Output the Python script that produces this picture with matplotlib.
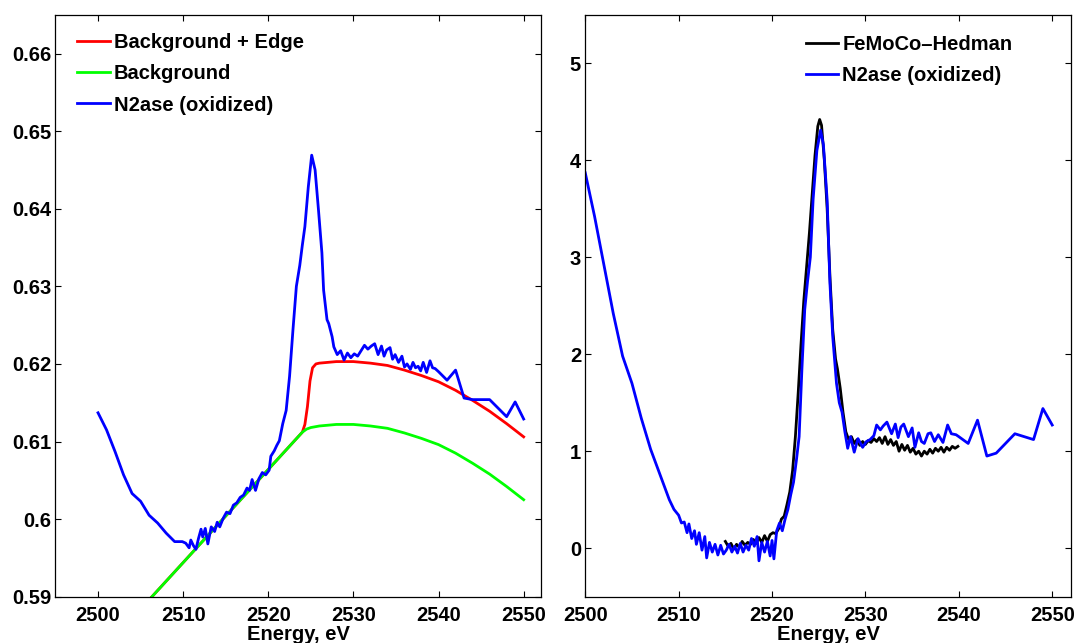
import matplotlib
matplotlib.use("Agg")
import matplotlib.pyplot as plt
from matplotlib.ticker import FormatStrFormatter

# N2ase (oxidized), raw absorbance
e_raw = [2500, 2501, 2502, 2503, 2504, 2505, 2506, 2507, 2508, 2509, 2509.9,
         2510.3, 2510.7, 2510.9, 2511.2, 2511.5, 2511.8, 2512.1, 2512.3, 2512.6, 2512.9,
         2513.3, 2513.7, 2514.0, 2514.3, 2514.7, 2515.1, 2515.5, 2515.9, 2516.3, 2516.7,
         2517.1, 2517.5, 2517.8, 2518.1, 2518.5, 2518.9, 2519.3, 2519.7, 2520.1, 2520.3,
         2520.7, 2521.0, 2521.3, 2521.7, 2522.1, 2522.5, 2522.9, 2523.3, 2523.7, 2524.0,
         2524.3, 2524.7, 2525.1, 2525.5, 2525.9, 2526.3, 2526.5, 2526.9, 2527.1, 2527.5,
         2527.7, 2528.1, 2528.5, 2528.9, 2529.3, 2529.7, 2530.1, 2530.5, 2530.9, 2531.3,
         2531.7, 2532.1, 2532.5, 2532.9, 2533.3, 2533.6, 2533.9, 2534.3, 2534.6, 2534.9,
         2535.3, 2535.7, 2536.0, 2536.3, 2536.7, 2537.0, 2537.3, 2537.6, 2537.9, 2538.2,
         2538.6, 2539.0, 2539.3, 2539.6, 2540.0, 2541, 2542, 2543, 2544, 2546, 2548,
         2549, 2550]
a_raw = [0.6137, 0.6115, 0.6087, 0.6057, 0.6033, 0.6023, 0.6005, 0.5995, 0.5982, 0.5971, 0.5971,
         0.5969, 0.5963, 0.5973, 0.5966, 0.5961, 0.5975, 0.5987, 0.5977, 0.5988, 0.5968,
         0.5990, 0.5984, 0.5996, 0.5990, 0.6001, 0.6009, 0.6007, 0.6018, 0.6021, 0.6028,
         0.6031, 0.6040, 0.6037, 0.6051, 0.6037, 0.6052, 0.6060, 0.6057, 0.6063, 0.6081,
         0.6088, 0.6095, 0.6101, 0.6123, 0.6140, 0.6184, 0.6244, 0.6300, 0.6327, 0.6353,
         0.6377, 0.6428, 0.6469, 0.6450, 0.6398, 0.6343, 0.6295, 0.6257, 0.6252, 0.6235,
         0.6222, 0.6212, 0.6217, 0.6205, 0.6214, 0.6208, 0.6213, 0.6210, 0.6217, 0.6224,
         0.6219, 0.6223, 0.6226, 0.6212, 0.6223, 0.6210, 0.6218, 0.6221, 0.6206, 0.6212,
         0.6202, 0.6210, 0.6196, 0.6200, 0.6193, 0.6202, 0.6195, 0.6197, 0.6191, 0.6202,
         0.6189, 0.6204, 0.6195, 0.6194, 0.6190, 0.6179, 0.6192, 0.6156, 0.6154, 0.6154, 0.6132,
         0.6151, 0.6129]

# background fit
e_bg = [2504, 2506, 2508, 2510, 2512, 2514, 2516, 2518, 2520, 2522, 2524, 2524.5, 2525,
        2525.5, 2526, 2527, 2528, 2529, 2530, 2531, 2532, 2534, 2536, 2538, 2540, 2542,
        2544, 2546, 2548, 2550]
a_bg = [0.5872, 0.5896, 0.5920, 0.5944, 0.5968, 0.5992, 0.6016, 0.6040, 0.6064, 0.6088,
        0.6112, 0.6116, 0.6118, 0.6119, 0.6120, 0.6121, 0.6122, 0.6122, 0.6122, 0.6121,
        0.6120, 0.6117, 0.6111, 0.6104, 0.6096, 0.6085, 0.6072, 0.6058, 0.6042, 0.6025]

# background + edge step
e_edge = [2504, 2506, 2508, 2510, 2512, 2514, 2516, 2518, 2520, 2522, 2524, 2524.3,
          2524.6, 2524.9, 2525.2, 2525.6, 2526, 2527, 2528, 2529, 2530, 2531, 2532, 2534,
          2536, 2538, 2540, 2542, 2544, 2546, 2548, 2550]
a_edge = [0.5872, 0.5896, 0.5920, 0.5944, 0.5968, 0.5992, 0.6016, 0.6040, 0.6064, 0.6088,
          0.6112, 0.6122, 0.6145, 0.6178, 0.6195, 0.6200, 0.6201, 0.6202, 0.6203, 0.6203,
          0.6203, 0.6202, 0.6201, 0.6198, 0.6192, 0.6185, 0.6177, 0.6166, 0.6153, 0.6139,
          0.6123, 0.6106]

# normalized N2ase (oxidized)
e_norm = [2500, 2501, 2502, 2503, 2504, 2505, 2506, 2507, 2508, 2509, 2509.5, 2510.0,
          2510.3, 2510.6, 2510.9, 2511.1, 2511.4, 2511.7, 2511.9, 2512.2, 2512.5, 2512.8,
          2513.0, 2513.3, 2513.6, 2513.9, 2514.2, 2514.5, 2514.8, 2515.1, 2515.4, 2515.7,
          2516.0, 2516.3, 2516.6, 2516.9, 2517.2, 2517.5, 2517.8, 2518.1, 2518.4, 2518.6,
          2518.9, 2519.2, 2519.5, 2519.8, 2520.0, 2520.2, 2520.5, 2520.8, 2521.1, 2521.4,
          2521.7, 2522.0, 2522.3, 2522.6, 2522.9, 2523.2, 2523.5, 2523.8, 2524.1, 2524.4,
          2524.8, 2525.2, 2525.5, 2525.9, 2526.2, 2526.5, 2526.9, 2527.2, 2527.5, 2527.8,
          2528.1, 2528.4, 2528.8, 2529.2, 2529.7, 2530.1, 2530.5, 2530.9, 2531.2, 2531.6,
          2531.9, 2532.3, 2532.8, 2533.2, 2533.5, 2533.8, 2534.1, 2534.6, 2535.0, 2535.3,
          2535.7, 2536.0, 2536.3, 2536.7, 2537.0, 2537.4, 2537.8, 2538.3, 2538.8, 2539.2,
          2539.7, 2540.0, 2541, 2542, 2543, 2544, 2546, 2548, 2549, 2550]
a_norm = [3.87, 3.42, 2.92, 2.42, 1.98, 1.70, 1.34, 1.02, 0.76, 0.50, 0.40, 0.34,
          0.26, 0.27, 0.16, 0.25, 0.10, 0.18, 0.04, 0.16, -0.02, 0.12,
          -0.10, 0.06, -0.04, 0.04, -0.07, 0.03, -0.06, -0.02, 0.04, -0.04,
          0.02, -0.05, 0.05, -0.04, 0.03, -0.02, 0.10, 0.02, 0.12, -0.13,
          0.06, -0.04, 0.07, -0.08, 0.08, -0.11, 0.18, 0.26, 0.18, 0.30,
          0.40, 0.55, 0.68, 0.90, 1.15, 1.85, 2.46, 2.75, 3.00, 3.60,
          4.10, 4.31, 4.16, 3.59, 2.73, 2.18, 1.70, 1.50, 1.40, 1.20,
          1.03, 1.15, 0.99, 1.13, 1.04, 1.10, 1.12, 1.16, 1.27, 1.22,
          1.26, 1.30, 1.18, 1.28, 1.14, 1.25, 1.28, 1.15, 1.24, 1.04,
          1.19, 1.10, 1.08, 1.18, 1.19, 1.10, 1.17, 1.09, 1.27, 1.18,
          1.17, 1.15, 1.08, 1.32, 0.95, 0.98, 1.18, 1.12, 1.44, 1.27]

# FeMoCo reference (Hedman)
e_hed = [2515.0, 2515.3, 2515.6, 2515.9, 2516.2, 2516.5, 2516.8, 2517.1, 2517.4, 2517.7,
         2518.0, 2518.3, 2518.6, 2518.9, 2519.2, 2519.5, 2519.8, 2520.1, 2520.4, 2520.7,
         2521.0, 2521.3, 2521.6, 2521.9, 2522.2, 2522.5, 2522.8, 2523.1, 2523.4, 2523.7,
         2524.0, 2524.3, 2524.6, 2524.9, 2525.1, 2525.3, 2525.6, 2525.9, 2526.2, 2526.5,
         2526.8, 2527.0, 2527.3, 2527.6, 2527.9, 2528.2, 2528.5, 2528.8, 2529.1, 2529.4,
         2529.7, 2530.0, 2530.3, 2530.6, 2530.9, 2531.2, 2531.5, 2531.8, 2532.1, 2532.4,
         2532.7, 2533.0, 2533.3, 2533.6, 2533.9, 2534.2, 2534.5, 2534.8, 2535.1, 2535.4,
         2535.7, 2536.0, 2536.3, 2536.6, 2536.9, 2537.2, 2537.5, 2537.8, 2538.1, 2538.4,
         2538.7, 2539.0, 2539.3, 2539.6, 2539.9]
a_hed = [0.07, 0.02, 0.05, -0.01, 0.04, 0.01, 0.07, 0.03, 0.06, 0.04,
         0.09, 0.05, 0.11, 0.06, 0.13, 0.07, 0.14, 0.16, 0.15, 0.20,
         0.30, 0.33, 0.45, 0.58, 0.80, 1.15, 1.60, 2.10, 2.55, 2.90,
         3.25, 3.65, 4.05, 4.35, 4.42, 4.36, 4.00, 3.50, 2.80, 2.25,
         1.95, 1.85, 1.65, 1.40, 1.20, 1.12, 1.15, 1.08, 1.12, 1.06,
         1.10, 1.07, 1.11, 1.09, 1.13, 1.10, 1.14, 1.08, 1.15, 1.07,
         1.12, 1.06, 1.10, 1.00, 1.07, 1.01, 1.06, 0.99, 1.03, 0.97,
         1.00, 0.95, 1.00, 0.97, 1.02, 0.98, 1.03, 1.00, 1.04, 0.99,
         1.04, 1.01, 1.05, 1.03, 1.05]

plt.rcParams['font.family'] = 'Liberation Sans'
plt.rcParams['font.weight'] = 'bold'
plt.rcParams['font.size'] = 14.5
plt.rcParams['axes.linewidth'] = 0.9

f = plt.figure(figsize=(10.79, 6.43), dpi=100)
ax1 = f.add_axes([0.0514, 0.0720, 0.4497, 0.9051])
ax2 = f.add_axes([0.5424, 0.0720, 0.4501, 0.9051])

# Left: raw spectrum with background and edge fit
ax1.plot(e_edge, a_edge, color=(1, 0, 0), lw=2, label="Background + Edge")
ax1.plot(e_bg, a_bg, color=(0, 1, 0), lw=2, label="Background")
ax1.plot(e_raw, a_raw, color=(0, 0, 1), lw=2, label="N2ase (oxidized)")
ax1.set_xlim(2495, 2552)
ax1.set_ylim(0.59, 0.665)
ax1.set_xticks([2500, 2510, 2520, 2530, 2540, 2550])
ax1.set_yticks([0.59, 0.60, 0.61, 0.62, 0.63, 0.64, 0.65, 0.66])
ax1.yaxis.set_major_formatter(FormatStrFormatter('%g'))
ax1.set_xlabel("Energy, eV", fontweight='bold', labelpad=0)
ax1.legend(loc='upper left', bbox_to_anchor=(0.045, 0.968), frameon=False,
           handlelength=1.6, handletextpad=0.2, labelspacing=0.6,
           borderaxespad=0, borderpad=0)

# Right: normalized spectrum vs. FeMoCo
ax2.plot(e_hed, a_hed, color='k', lw=2, label="FeMoCo\u2013Hedman")
ax2.plot(e_norm, a_norm, color=(0, 0, 1), lw=2, label="N2ase (oxidized)")
ax2.set_xlim(2500, 2552)
ax2.set_ylim(-0.5, 5.5)
ax2.set_xticks([2500, 2510, 2520, 2530, 2540, 2550])
ax2.set_yticks([0, 1, 2, 3, 4, 5])
ax2.set_xlabel("Energy, eV", fontweight='bold', labelpad=0)
ax2.legend(loc='upper left', bbox_to_anchor=(0.455, 0.965), frameon=False,
           handlelength=1.6, handletextpad=0.2, labelspacing=0.6,
           borderaxespad=0, borderpad=0)

for ax in (ax1, ax2):
    ax.tick_params(direction='in', top=True, right=True, length=4.5, width=0.8)
    ax.tick_params(axis='x', pad=7)
    ax.tick_params(axis='y', pad=3)

plt.savefig("out.png", dpi=100)
plt.close(f)
